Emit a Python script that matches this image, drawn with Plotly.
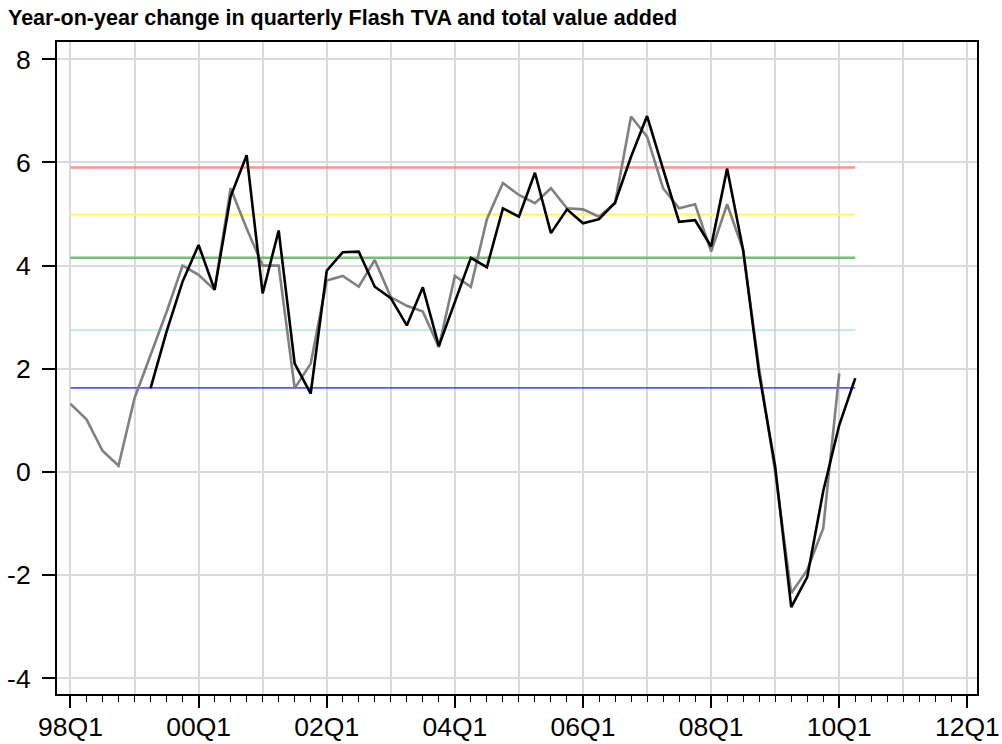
import plotly.graph_objects as go

# ---- data ----
total_start = "98Q1"
total_va = [1.32, 1.02, 0.41, 0.12,
            1.43, 2.25, 3.10, 4.00,
            3.82, 3.53, 5.50, 4.72,
            4.00, 4.00, 1.62, 2.10,
            3.71, 3.80, 3.59, 4.11,
            3.39, 3.22, 3.11, 2.42,
            3.80, 3.59, 4.90, 5.60,
            5.37, 5.21, 5.50, 5.11,
            5.09, 4.95, 5.21, 6.89,
            6.50, 5.50, 5.11, 5.19,
            4.27, 5.19, 4.30, 2.00,
            0.00, -2.35, -1.90, -1.09,
            1.91]

flash_start = "99Q2"
flash_tva = [1.62, 2.72, 3.69,
             4.40, 3.53, 5.34, 6.14,
             3.46, 4.68, 2.10, 1.52,
             3.90, 4.26, 4.27, 3.59,
             3.37, 2.84, 3.58, 2.44,
             3.30, 4.15, 3.97, 5.11,
             4.95, 5.80, 4.63, 5.09,
             4.82, 4.90, 5.22, 6.11,
             6.90, 5.85, 4.85, 4.88,
             4.37, 5.88, 4.30, 1.90,
             0.10, -2.62, -2.04, -0.37,
             0.91, 1.82]

ref_levels = [5.90, 4.99, 4.15, 2.75, 1.63]
ref_colors = ["rgba(255,110,110,0.75)", "rgba(255,255,80,1)", "rgba(80,175,80,0.8)",
              "rgba(150,205,230,0.8)", "rgba(70,70,255,0.9)"]
ref_widths = [2.5, 2.2, 2.5, 1.2, 1.6]
ref_span = ["98Q1", "10Q2"]

tick_labels = ["98Q1", "00Q1", "02Q1", "04Q1", "06Q1", "08Q1", "10Q1", "12Q1"]
grid_years = ["98Q1", "99Q1", "00Q1", "01Q1", "02Q1", "03Q1", "04Q1", "05Q1",
              "06Q1", "07Q1", "08Q1", "09Q1", "10Q1", "11Q1", "12Q1"]
y_ticks = [-4, -2, 0, 2, 4, 6, 8]

title = "Year-on-year change in quarterly Flash TVA and total value added"


def qpos(label):
    yy = int(label[:2])
    q = int(label[3])
    return ((yy - 98) % 100) * 4 + (q - 1)


def series_x(start, n):
    p0 = qpos(start)
    return [p0 + i for i in range(n)]


fig = go.Figure()

xs = [qpos(s) for s in ref_span]
for lvl, col, w in zip(ref_levels, ref_colors, ref_widths):
    fig.add_trace(go.Scatter(x=xs, y=[lvl, lvl], mode="lines",
                             line=dict(color=col, width=w),
                             showlegend=False, hoverinfo="skip"))

fig.add_trace(go.Scatter(x=series_x(total_start, len(total_va)), y=total_va,
                         mode="lines", xaxis="x2",
                         line=dict(color="rgb(128,128,128)", width=2.6),
                         name="Total value added", showlegend=False))
fig.add_trace(go.Scatter(x=series_x(flash_start, len(flash_tva)), y=flash_tva,
                         mode="lines", xaxis="x2",
                         line=dict(color="black", width=2.6),
                         name="Flash TVA", showlegend=False))

xrange = [-0.84, 56.6]
tick_font = dict(family="Liberation Sans, Arial, sans-serif", size=26.5, color="black")
grid_col = "rgb(218,218,218)"

fig.update_layout(
    width=1002, height=744,
    margin=dict(l=57, r=25, t=42, b=50, autoexpand=False),
    paper_bgcolor="white", plot_bgcolor="white",
    title=dict(text="<b>" + title + "</b>", xref="container", yref="container",
               x=8 / 1002, xanchor="left", y=1 - 17 / 744, yanchor="middle",
               font=dict(family="Liberation Sans, Arial, sans-serif", size=21.5, color="black")),
    xaxis=dict(range=xrange, tickmode="array", automargin=False,
               tickvals=[qpos(t) for t in tick_labels], ticktext=tick_labels,
               ticks="outside", ticklen=12, tickwidth=1.5, tickcolor="black",
               ticklabeloverflow="allow", ticklabelstandoff=-4,
               showgrid=False, zeroline=False,
               showline=True, linecolor="black", linewidth=2, mirror=True,
               tickfont=tick_font,
               minor=dict(tickmode="linear", tick0=0, dtick=1, ticks="outside",
                          ticklen=6, tickwidth=1, tickcolor="black", showgrid=False)),
    xaxis2=dict(range=xrange, overlaying="x", anchor="y", side="bottom", automargin=False,
                tickmode="array", tickvals=[qpos(t) for t in grid_years],
                showticklabels=False, ticks="", showgrid=True,
                gridcolor=grid_col, gridwidth=1.5, zeroline=False, showline=False),
    yaxis=dict(range=[-4.305, 8.335], tickmode="array", tickvals=y_ticks, automargin=False,
               ticktext=[str(v) for v in y_ticks],
               ticks="outside", ticklen=13, tickwidth=1.5, tickcolor="black",
               ticklabeloverflow="allow",
               showgrid=True, gridcolor=grid_col, gridwidth=1.5, zeroline=False,
               showline=True, linecolor="black", linewidth=2, mirror=True,
               tickfont=tick_font, ticklabelstandoff=6),
)

fig.write_html("out.html", config={"displayModeBar": False},
               post_script="document.body.style.margin='0';document.body.style.overflow='hidden';")
